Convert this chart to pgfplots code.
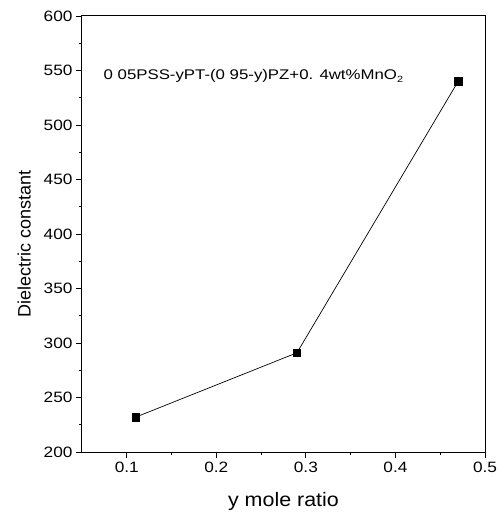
\documentclass[border=0pt]{standalone}
\usepackage{fontspec}
\setmainfont{Liberation Sans}
\newfontfamily\tickfont[FakeStretch=1.15]{Liberation Sans}
\newfontfamily\labfont[FakeStretch=1.1]{Liberation Sans}
\newfontfamily\annfont[FakeStretch=1.2]{Liberation Sans}
\usepackage{pgfplots}
\pgfplotsset{compat=1.18}
\begin{document}
\begin{tikzpicture}
\path[use as bounding box] (-82bp,-62bp) rectangle (416bp,452bp);
\begin{axis}[
  scale only axis,
  width=403bp, height=436bp,
  at={(0,0)}, anchor=south west,
  xmin=0.05, xmax=0.5,
  ymin=200, ymax=600,
  xtick={0.1,0.2,0.3,0.4,0.5},
  xticklabels={0.1,0.2,0.3,0.4,0.5},
  minor xtick={0.15,0.25,0.35,0.45},
  ytick={200,250,300,350,400,450,500,550,600},
  minor ytick={225,275,325,375,425,475,525,575},
  tick align=outside,
  xtick pos=bottom, ytick pos=left,
  major tick length=6bp, minor tick length=3bp,
  tick style={black, line width=0.8bp},
  axis line style={line width=1bp},
  tick label style={font=\tickfont\fontsize{15bp}{17bp}\selectfont},
  xticklabel style={yshift=-1bp},
  /pgf/number format/assume math mode=true,
  xlabel={\labfont\fontsize{19.5bp}{22bp}\selectfont y mole ratio},
  ylabel={\fontsize{18bp}{20bp}\selectfont Dielectric constant},
  xlabel style={yshift=-12bp},
  ylabel style={at={(ticklabel cs:0.477)}, yshift=6bp},
]
\addplot[black, line width=0.7bp, mark=square*, mark size=3.8bp, mark options={solid, fill=black}]
  coordinates {(0.11,232) (0.29,291) (0.47,540)};
\node[anchor=west, inner sep=0pt, font=\annfont\fontsize{14bp}{16bp}\selectfont]
  at (axis cs:0.074,545) {0 05PSS-yPT-(0 95-y)PZ+0. 4wt\%MnO\raisebox{-0.35ex}{\fontsize{9bp}{10bp}\selectfont 2}};
\end{axis}
\end{tikzpicture}
\end{document}
